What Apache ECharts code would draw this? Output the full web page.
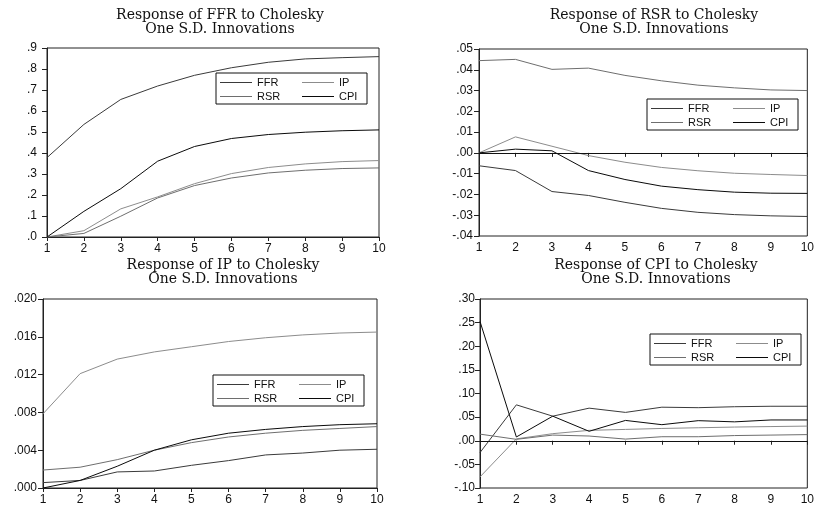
<!DOCTYPE html>
<html>
<head>
<meta charset="utf-8">
<script src="https://cdn.jsdelivr.net/npm/echarts@6/dist/echarts.min.js"></script>
<style>
  html, body { margin: 0; padding: 0; background: #fff; }
  #chart { width: 817px; height: 506px; }
</style>
</head>
<body>
<div id="chart"></div>
<script>
/* impulse responses, 4 panels */
var periods = ['1', '2', '3', '4', '5', '6', '7', '8', '9', '10'];
var names = ['FFR', 'IP', 'RSR', 'CPI'];

// response of FFR
var ffr_FFR = [.378, .536, .655, .719, .770, .806, .832, .848, .854, .859];
var ffr_IP  = [0, .030, .134, .191, .254, .302, .331, .348, .359, .364];
var ffr_RSR = [0, .017, .099, .186, .245, .281, .305, .318, .326, .329];
var ffr_CPI = [0, .122, .230, .361, .431, .469, .488, .499, .506, .510];

// response of RSR
var rsr_FFR = [-.0062, -.0085, -.0186, -.0205, -.0238, -.0267, -.0286, -.0297, -.0303, -.0306];
var rsr_IP  = [0, .0077, .0032, -.0013, -.0045, -.0070, -.0086, -.0098, -.0104, -.0109];
var rsr_RSR = [.0444, .0450, .0402, .0408, .0373, .0347, .0326, .0313, .0303, .0300];
var rsr_CPI = [0, .0018, .0010, -.0085, -.0128, -.0160, -.0177, -.0189, -.0194, -.0195];

// response of IP
var ip_FFR = [.00057, .0008, .0017, .0018, .0024, .0029, .0035, .0037, .0040, .0041];
var ip_IP  = [.00785, .0121, .01364, .0144, .01495, .0155, .0159, .0162, .0164, .0165];
var ip_RSR = [.0019, .0022, .0030, .0040, .0048, .0054, .0058, .0061, .0063, .0065];
var ip_CPI = [0, .0008, .0023, .0040, .0051, .0058, .0062, .0065, .0067, .0068];

// response of CPI
var cpi_FFR = [-.025, .076, .052, .069, .060, .071, .070, .072, .073, .073];
var cpi_IP  = [-.0765, .004, .015, .022, .024, .026, .0275, .029, .030, .031];
var cpi_RSR = [.014, .003, .012, .010, .0035, .0085, .0085, .011, .012, .013];
var cpi_CPI = [.2525, .008, .052, .020, .043, .034, .0425, .040, .044, .044];

var titles = [
  'Response of FFR to Cholesky\nOne S.D. Innovations',
  'Response of RSR to Cholesky\nOne S.D. Innovations',
  'Response of IP to Cholesky\nOne S.D. Innovations',
  'Response of CPI to Cholesky\nOne S.D. Innovations'
];

var panels = [
  { data: [ffr_FFR, ffr_IP, ffr_RSR, ffr_CPI], min: 0, max: 0.9, step: 0.1, dec: 1, zero: false, ylm: 10,
    grid: { left: 47, top: 48, width: 332, height: 189 }, title: { left: 220, top: 8 }, legend: { left: 216, top: 73 } },
  { data: [rsr_FFR, rsr_IP, rsr_RSR, rsr_CPI], min: -0.04, max: 0.05, step: 0.01, dec: 2, zero: true, ylm: 6,
    grid: { left: 479, top: 49, width: 334, height: 187 }, title: { left: 654, top: 8 }, legend: { left: 647, top: 99 } },
  { data: [ip_FFR, ip_IP, ip_RSR, ip_CPI], min: 0, max: 0.02, step: 0.004, dec: 3, zero: false, ylm: 6,
    grid: { left: 43, top: 299, width: 334, height: 189 }, title: { left: 223, top: 258 }, legend: { left: 213, top: 375 } },
  { data: [cpi_FFR, cpi_IP, cpi_RSR, cpi_CPI], min: -0.1, max: 0.3, step: 0.05, dec: 2, zero: true, ylm: 5,
    grid: { left: 480, top: 299, width: 334, height: 189 }, title: { left: 656, top: 258 }, legend: { left: 650, top: 334 } }
];

var colors = { FFR: '#3a3a3a', IP: '#8c8c8c', RSR: '#6e6e6e', CPI: '#0a0a0a' };
var sans = 'Liberation Sans, Arial, sans-serif';

function fmt(dec) {
  return function(v) {
    var s = Math.abs(v).toFixed(dec).replace(/^0/, '');
    return (v < -1e-9 ? '-' : '') + s;
  };
}

var option = {
  animation: false,
  backgroundColor: '#fff',
  title: [], grid: [], xAxis: [], yAxis: [], legend: [], series: []
};

panels.forEach(function(p, i) {
  option.title.push({
    text: titles[i],
    left: p.title.left, top: p.title.top, textAlign: 'center', padding: 0,
    textStyle: { fontFamily: 'DejaVu Serif', fontWeight: 'normal', fontSize: 14, lineHeight: 14.5, color: '#111' }
  });
  option.grid.push(Object.assign({ show: true, borderColor: '#222', borderWidth: 1, backgroundColor: 'transparent' }, p.grid));
  option.xAxis.push({
    type: 'category', gridIndex: i, data: periods, boundaryGap: false,
    axisLine: { lineStyle: { color: '#222', width: 1 } },
    axisTick: { inside: false, length: 4, lineStyle: { color: '#222' } },
    axisLabel: { margin: 6, fontFamily: sans, fontSize: 12, color: '#111' },
    splitLine: { show: false }
  });
  option.yAxis.push({
    type: 'value', gridIndex: i, min: p.min, max: p.max, interval: p.step,
    axisLine: { show: true, lineStyle: { color: '#222', width: 1 } },
    axisTick: { show: true, inside: false, length: 5, lineStyle: { color: '#222' } },
    axisLabel: { margin: p.ylm, fontFamily: sans, fontSize: 12, color: '#111', formatter: fmt(p.dec) },
    splitLine: { show: false }
  });
  option.legend.push({
    data: names, left: p.legend.left, top: p.legend.top, width: 142,
    orient: 'horizontal', itemGap: 2, itemWidth: 32, itemHeight: 1, icon: 'rect',
    padding: [3.5, 8, 1.5, 4], borderColor: '#111', borderWidth: 1,
    selectedMode: false,
    textStyle: {
      fontFamily: sans, fontSize: 11, color: '#111', lineHeight: 12,
      rich: { a: { width: 43, fontFamily: sans, fontSize: 11 }, b: { width: 20, fontFamily: sans, fontSize: 11 } }
    },
    formatter: function(name) {
      return (name === 'FFR' || name === 'RSR') ? '{a|' + name + '}' : '{b|' + name + '}';
    }
  });
  names.forEach(function(n, k) {
    var s = {
      name: n, type: 'line', xAxisIndex: i, yAxisIndex: i,
      data: p.data[k], symbol: 'none', color: colors[n],
      lineStyle: { width: 1, color: colors[n] }
    };
    if (k === 0 && p.zero) {
      s.markLine = {
        silent: true, symbol: 'none', label: { show: false },
        lineStyle: { color: '#111', width: 1, type: 'solid' },
        data: [{ yAxis: 0 }]
      };
    }
    option.series.push(s);
  });
});

var chart = echarts.init(document.getElementById('chart'));
chart.setOption(option);
</script>
</body>
</html>
